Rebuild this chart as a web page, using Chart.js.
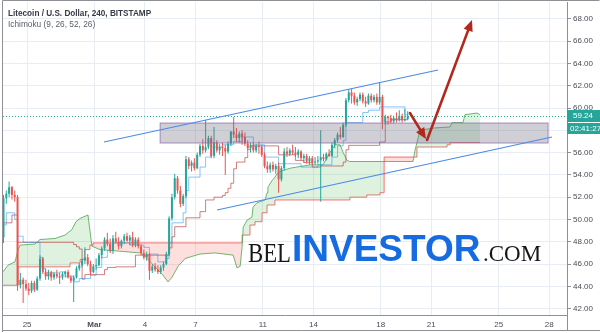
<!DOCTYPE html>
<html>
<head>
<meta charset="utf-8">
<script src="https://cdn.jsdelivr.net/npm/chart.js@4.4.1/dist/chart.umd.min.js"></script>
<style>
  html, body { margin: 0; padding: 0; background: #fff; }
</style>
</head>
<body>
<canvas id="mycanvas" width="600" height="333"></canvas>
<script>
// 4h candles, index 0 = first bar on the left edge (Feb 23)
var opens = [
  48.4,51.9,52.3,52.9,52.2,52.0,44.1,44.6,44.2,43.8,
  43.6,44.3,43.7,44.7,46.5,45.3,44.9,45.3,44.8,45.1,
  44.9,44.8,45.1,45.3,44.8,44.5,44.8,45.6,45.9,46.3,
  46.6,46.0,45.3,45.8,45.9,46.8,47.4,48.2,47.8,47.2,
  48.3,48.0,47.6,48.1,48.5,48.1,48.4,47.7,48.2,47.6,
  47.0,46.6,46.9,45.4,45.8,45.5,45.3,45.7,46.0,46.9,
  50.1,52.0,53.7,52.6,51.4,52.1,55.4,54.8,55.1,54.6,
  55.8,56.6,56.2,56.5,57.3,55.7,56.9,56.2,56.5,56.4,
  56.1,56.8,57.9,57.6,57.3,57.7,57.4,56.8,56.4,56.7,
  56.2,56.6,56.5,55.8,54.8,54.5,54.9,54.5,54.8,53.6,
  54.6,56.1,55.9,56.2,56.0,55.8,56.1,55.5,55.7,55.2,
  55.5,55.1,55.2,55.3,55.6,55.4,55.9,55.7,56.7,57.1,
  57.6,57.4,58.5,60.7,61.4,61.1,60.5,60.8,61.2,60.6,
  60.4,61.1,60.7,61.0,60.5,61.0,58.7,59.2,59.1,58.8,
  59.1,58.9,59.3,58.9,59.0
];
var highs = [
  52.2,52.6,53.4,53.0,52.6,52.2,45.2,44.8,44.6,44.3,
  44.5,44.5,44.9,46.8,46.6,45.6,45.5,45.4,45.3,45.5,
  45.2,45.3,45.4,45.5,45.0,45.0,45.8,46.1,46.5,47.5,
  46.9,46.3,46.0,46.5,47.0,47.6,48.4,48.8,48.3,48.6,
  48.9,48.4,48.2,48.7,48.8,48.6,48.9,48.4,48.4,47.8,
  47.3,47.1,47.0,46.0,46.1,45.9,45.9,46.2,47.1,50.3,
  52.3,54.1,53.9,53.0,52.3,55.7,55.6,55.3,55.5,56.0,
  56.8,57.2,58.9,57.5,57.5,58.3,57.1,56.8,56.9,56.7,
  57.0,57.9,59.2,58.2,57.9,58.0,57.8,57.1,56.9,56.9,
  56.8,57.0,56.7,56.0,55.2,55.1,55.2,55.0,55.1,54.8,
  56.4,56.5,56.4,56.7,56.5,56.3,56.2,55.9,55.9,55.7,
  55.7,55.6,55.7,58.0,55.9,56.0,56.3,56.9,57.3,57.8,
  58.3,58.7,60.9,61.7,61.7,61.4,61.0,61.4,61.4,61.0,
  61.3,61.3,61.2,61.3,62.3,61.2,59.4,59.3,59.4,59.3,
  59.6,59.8,59.5,59.9,59.7
];
var lows = [
  47.9,51.4,52.0,51.8,51.6,43.6,43.8,42.5,43.6,43.2,
  43.4,43.5,43.6,44.5,45.1,44.6,44.6,44.5,44.6,44.7,
  44.2,44.6,44.8,44.7,44.3,42.6,44.7,45.4,45.7,46.0,
  45.8,45.0,45.2,45.5,45.8,46.5,47.2,47.6,47.0,46.9,
  47.9,47.3,47.4,47.8,48.0,47.7,47.5,47.5,47.4,46.8,
  46.4,46.3,44.6,45.2,45.3,45.1,45.1,45.4,45.9,46.7,
  49.9,51.8,52.3,51.1,51.2,51.9,54.5,54.3,54.4,54.5,
  55.6,55.9,56.0,56.3,55.5,55.5,56.0,55.8,55.7,54.0,
  55.9,56.6,57.3,57.0,56.9,56.7,56.6,56.2,56.0,56.0,
  56.0,55.9,55.6,54.6,54.2,54.2,54.3,54.1,52.4,53.4,
  54.4,55.6,55.7,55.8,55.6,55.5,55.3,55.1,55.0,54.9,
  54.9,54.9,55.0,51.6,55.2,55.3,55.6,55.6,56.4,56.9,
  57.2,57.3,58.3,60.5,60.4,60.3,60.2,60.6,60.4,60.1,
  60.3,60.5,60.5,60.3,60.3,58.1,58.5,58.5,58.6,58.6,
  58.7,58.8,58.7,58.8,58.9
];
var closes = [
  51.9,52.3,52.9,52.2,52.0,44.1,44.6,44.2,43.8,43.6,
  44.3,43.7,44.7,46.5,45.3,44.9,45.3,44.8,45.1,44.9,
  44.8,45.1,45.3,44.8,44.5,44.8,45.6,45.9,46.3,46.6,
  46.0,45.3,45.8,45.9,46.8,47.4,48.2,47.8,47.2,48.3,
  48.0,47.6,48.1,48.5,48.1,48.4,47.7,48.2,47.6,47.0,
  46.6,46.9,45.4,45.8,45.5,45.3,45.7,46.0,46.9,50.1,
  52.0,53.7,52.6,51.4,52.1,55.4,54.8,55.1,54.6,55.8,
  56.6,56.2,56.5,57.3,55.7,56.9,56.2,56.5,56.4,56.1,
  56.8,57.9,57.6,57.3,57.7,57.4,56.8,56.4,56.7,56.2,
  56.6,56.5,55.8,54.8,54.5,54.9,54.5,54.8,53.6,54.6,
  56.1,55.9,56.2,56.0,55.8,56.1,55.5,55.7,55.2,55.5,
  55.1,55.2,55.3,55.6,55.4,55.9,55.7,56.7,57.1,57.6,
  57.4,58.5,60.7,61.4,61.1,60.5,60.8,61.2,60.6,60.4,
  61.1,60.7,61.0,60.5,61.0,58.7,59.2,59.1,58.8,59.1,
  58.9,59.3,58.9,59.0,59.24
];

// Ichimoku lines as [bar index, price] breakpoints
var conversionLine = [
  [0,49.5],[1,50.6],[4,50.0],[5,48.5],[7,47.95],[13,46.6],[14,45.6],[15,45.0],[17,45.2],[20,45.3],
  [22,44.9],[25,44.4],[27,44.7],[31,45.0],[33,45.7],[35,46.6],[37,47.2],[39,47.9],[45,47.7],[50,47.5],
  [52,46.9],[55,46.2],[58,46.5],[59,47.9],[60,49.7],[64,50.6],[65,52.6],[66,53.8],[70,54.7],[72,55.6],
  [74,56.5],[78,56.7],[82,57.0],[85,57.4],[89,56.7],[93,55.6],[98,55.0],[106,54.7],[112,54.9],[117,55.6],
  [119,56.6],[121,57.1],[122,58.7],[128,59.6],[130,59.8],[134,60.1],[143,59.4],[144,59.2]
];
var baseLine = [
  [0,49.7],[3,50.4],[5,47.95],[25,47.75],[26,47.55],[27,47.35],[28,44.65],[29,45.05],[36,45.5],[37,45.7],
  [40,45.75],[47,46.8],[59,47.45],[60,48.45],[61,49.35],[65,50.15],[70,50.7],[72,51.75],[75,52.0],[78,52.15],
  [79,52.4],[80,52.8],[81,53.25],[82,54.55],[83,55.15],[86,55.55],[87,56.3],[88,56.6],[98,55.8],[104,55.3],
  [107,55.1],[110,54.7],[113,54.8],[121,55.15],[122,56.25],[123,56.65],[134,56.95],[136,58.75],[138,58.95],[144,58.95]
];
var leadA = [
  [-0.2,45.3],[1.6,45.9],[4.1,46.2],[5.2,47.3],[5.9,47.7],[11.2,47.8],[13,48.2],[18.4,48.3],[21.9,48.6],[24.4,49.1],
  [25.8,49.8],[27.3,50.1],[30.1,50.4],[31.5,47.6],[34.4,47.3],[48.6,47.0],[50.4,46.7],[56.8,45.0],[58.6,44.4],[60,44.8],
  [62.2,45.8],[64.7,46.5],[70,46.9],[75.3,47.0],[81.8,46.8],[83.2,45.65],[84.3,45.8],[85,47.5],[85.4,49.3],[86.8,49.95],
  [88.5,50.2],[88.9,51.1],[90.3,51.5],[93.2,51.75],[93.9,52.4],[94.2,52.9],[95.7,53.5],[96.7,53.8],[97.8,54.2],[99.6,54.4],
  [102.1,54.6],[109.2,54.9],[113.8,54.9],[116.3,56.0],[118.1,56.7],[119.9,56.7],[121,56.0],[122.4,55.3],[123.4,55.2],[145.9,55.2],
  [146.6,56.2],[147.7,57.3],[148.4,58.0],[153,58.2],[159.1,58.3],[159.8,58.7],[163.7,58.7],[164.4,59.4],[168.7,59.55],[169.8,59.4]
];
var leadB = [
  [-0.2,44.1],[5.2,45.75],[23.7,46.1],[27.3,46.4],[29,47.3],[30.8,47.7],[31.9,47.9],[85,48.6],[87.8,49.5],[89.6,49.8],
  [92.1,50.6],[93.9,51.3],[96.7,51.75],[123.4,52.0],[129.4,52.2],[134.1,52.4],[135.6,55.6],[147.3,56.5],[158,56.7],[159.1,56.9],
  [169.8,56.9]
];

// drawings, in [bar index, price]
var channelTop = [[35.8,56.95],[154.8,63.41]];
var channelBottom = [[76.1,50.85],[195.4,57.4]];
var zoneX = [55.8,194.0];
var zoneY = [56.86,58.65];
var arrowFrom = [[144.8,59.55],[150.9,57.13]];
var arrowTo = [[150.5,57.22],[166.9,67.89]];

// time axis
var mar1Bar = 32.4;
var tickDays = [-4,0,3,6,10,13,17,20,24,27];
var tickLabels = ['25','Mar','4','7','11','14','18','21','25','28'];

var FONT = '"Liberation Sans", Arial, sans-serif';
var UP = '#26a69a', DOWN = '#ef5350';
var lastPrice = closes[closes.length - 1];
var X_MIN = -0.18, X_MAX = 200.75;
var Y_MIN = 41.43, Y_MAX = 69.51;

function pts(arr) {
  return arr.map(function(p) { return {x: p[0], y: p[1]}; });
}

var colors = [], wicks = [], bodies = [];
for (var i in closes) {
  colors.push(closes[i] >= opens[i] ? UP : DOWN);
  wicks.push({x: +i, y: [lows[i], highs[i]]});
  bodies.push({x: +i, y: [opens[i], closes[i]]});
}

var overlay = {
  id: 'overlay',
  afterDatasetDraw: function(chart, args) {
    if (args.index !== 2) return;
    var ctx = chart.ctx, x = chart.scales.x, y = chart.scales.y;
    var x1 = x.getPixelForValue(zoneX[0]), x2 = x.getPixelForValue(zoneX[1]);
    var y1 = y.getPixelForValue(zoneY[1]), y2 = y.getPixelForValue(zoneY[0]);
    ctx.save();
    ctx.fillStyle = 'rgba(105,105,125,0.32)';
    ctx.fillRect(x1, y1, x2 - x1, y2 - y1);
    ctx.strokeStyle = 'rgba(140,105,175,0.75)';
    ctx.lineWidth = 1;
    ctx.strokeRect(x1, y1, x2 - x1, y2 - y1);
    ctx.restore();
  },
  afterDatasetsDraw: function(chart) {
    var ctx = chart.ctx, x = chart.scales.x, y = chart.scales.y;
    ctx.save();
    // arrows
    ctx.strokeStyle = '#b2281e';
    ctx.fillStyle = '#b2281e';
    ctx.lineWidth = 2.6;
    ctx.lineCap = 'round';
    for (var k = 0; k < arrowFrom.length; k++) {
      var ax = x.getPixelForValue(arrowFrom[k][0]), ay = y.getPixelForValue(arrowFrom[k][1]);
      var bx = x.getPixelForValue(arrowTo[k][0]), by = y.getPixelForValue(arrowTo[k][1]);
      var ang = Math.atan2(by - ay, bx - ax);
      var hx = bx - 11 * Math.cos(ang), hy = by - 11 * Math.sin(ang);
      ctx.beginPath(); ctx.moveTo(ax, ay); ctx.lineTo(hx, hy); ctx.stroke();
      ctx.beginPath();
      ctx.moveTo(bx, by);
      ctx.lineTo(hx + 4.8 * Math.sin(ang), hy - 4.8 * Math.cos(ang));
      ctx.lineTo(hx - 4.8 * Math.sin(ang), hy + 4.8 * Math.cos(ang));
      ctx.closePath(); ctx.fill();
    }
    // watermark
    ctx.textBaseline = 'alphabetic';
    ctx.textAlign = 'left';
    ctx.fillStyle = '#161616';
    ctx.font = '27px "Liberation Serif", "Times New Roman", serif';
    ctx.fillText('BEL', 248, 262, 43);
    ctx.fillStyle = '#166be0';
    ctx.font = 'bold 37px ' + FONT;
    ctx.fillText('INVESTOR', 292, 261, 191);
    ctx.fillStyle = '#161616';
    ctx.font = '23px "Liberation Serif", "Times New Roman", serif';
    ctx.fillText('.COM', 483, 261, 62);
    ctx.restore();
  },
  afterDraw: function(chart) {
    var ctx = chart.ctx, y = chart.scales.y;
    ctx.save();
    // header
    ctx.textBaseline = 'alphabetic';
    ctx.fillStyle = '#363a45';
    ctx.font = 'bold 8.2px ' + FONT;
    ctx.fillText('Litecoin / U.S. Dollar, 240, BITSTAMP', 8, 16);
    ctx.fillStyle = '#5d606b';
    ctx.font = '8.3px ' + FONT;
    ctx.fillText('Ichimoku (9, 26, 52, 26)', 8, 27);
    // last price tag
    var py = Math.round(y.getPixelForValue(lastPrice));
    ctx.fillStyle = UP;
    ctx.fillRect(567, py - 6, 33, 12);
    ctx.fillRect(567, py + 7, 33, 11);
    ctx.fillStyle = '#fff';
    ctx.font = '8px ' + FONT;
    ctx.textBaseline = 'middle';
    ctx.fillText(lastPrice.toFixed(2), 573, py);
    ctx.fillText('02:41:27', 570, py + 12.5);
    // frame
    ctx.strokeStyle = '#8e9096';
    ctx.lineWidth = 1;
    ctx.beginPath();
    ctx.moveTo(2.5, 332); ctx.lineTo(2.5, 0.5); ctx.lineTo(599.5, 0.5);
    ctx.moveTo(2.5, 330.5); ctx.lineTo(600, 330.5);
    ctx.moveTo(567.5, 315); ctx.lineTo(567.5, 331);
    ctx.stroke();
    ctx.restore();
  }
};

function stepLine(data, color, width) {
  return {type: 'line', data: pts(data), borderColor: color, borderWidth: width || 1,
          stepped: true, pointRadius: 0, fill: false};
}

var ctx = document.getElementById('mycanvas');
var chart = new Chart(ctx, {
  type: 'bar',
  data: {
    datasets: [
      {type: 'line', data: pts(channelTop), borderColor: '#4a8be8', borderWidth: 1.2, pointRadius: 0, fill: false},
      {type: 'line', data: pts(channelBottom), borderColor: '#4a8be8', borderWidth: 1.2, pointRadius: 0, fill: false},
      {type: 'bar', data: bodies, backgroundColor: colors, barThickness: 2, minBarLength: 1, grouped: false, borderWidth: 0, inflateAmount: 0},
      {type: 'bar', data: wicks, backgroundColor: colors, barThickness: 1, grouped: false, borderWidth: 0, inflateAmount: 0},
      {type: 'line', data: [{x: X_MIN, y: lastPrice}, {x: X_MAX, y: lastPrice}], borderColor: UP, borderWidth: 1, borderDash: [1, 2], pointRadius: 0, fill: false},
      stepLine(conversionLine, 'rgba(33,150,243,0.55)'),
      stepLine(baseLine, 'rgba(180,50,45,0.62)'),
      {type: 'line', data: pts(leadA), borderColor: 'rgba(67,160,71,0.75)', borderWidth: 1, pointRadius: 0,
       fill: {target: 8, above: 'rgba(76,175,80,0.18)', below: 'rgba(244,67,54,0.17)'}},
      stepLine(leadB, 'rgba(239,83,80,0.8)')
    ]
  },
  options: {
    responsive: false,
    animation: false,
    events: [],
    devicePixelRatio: 1,
    layout: {padding: {left: 3, top: 2, right: 0, bottom: 0}},
    plugins: {legend: {display: false}, tooltip: {enabled: false}},
    scales: {
      x: {
        type: 'linear', min: X_MIN, max: X_MAX, offset: false,
        afterBuildTicks: function(s) {
          s.ticks = tickDays.map(function(d) { return {value: mar1Bar + 6 * d}; });
        },
        afterFit: function(s) { s.height = 18; s.paddingLeft = 0; s.paddingRight = 0; },
        border: {display: true, color: '#8e9096'},
        grid: {color: '#e7edf2', drawTicks: false, offset: false},
        ticks: {
          autoSkip: false, maxRotation: 0, padding: 5, color: '#4a4d55',
          font: function(c) { return {family: FONT, size: 8, weight: c.index === 1 ? 'bold' : 'normal'}; },
          callback: function(v, idx) { return tickLabels[idx]; }
        }
      },
      y: {
        type: 'linear', position: 'right', min: Y_MIN, max: Y_MAX,
        afterFit: function(s) { s.width = 33; s.paddingTop = 0; s.paddingBottom = 0; },
        border: {display: true, color: '#8e9096'},
        grid: {color: '#e7edf2', tickLength: 4, tickColor: '#8e9096'},
        ticks: {
          stepSize: 2, includeBounds: false, padding: 2, color: '#4a4d55',
          font: {family: FONT, size: 8},
          callback: function(v) { return v.toFixed(2); }
        }
      }
    }
  },
  plugins: [overlay]
});
</script>
</body>
</html>
